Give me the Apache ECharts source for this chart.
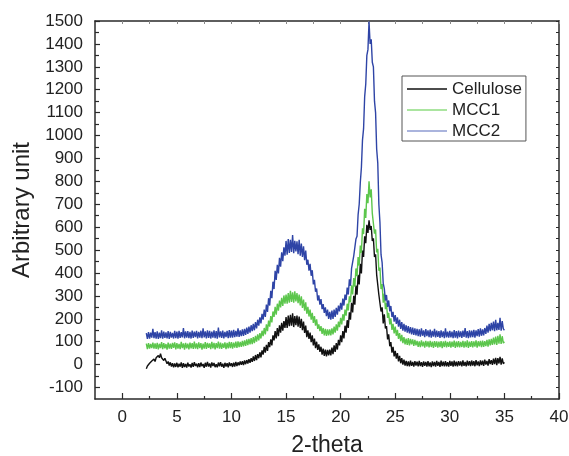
<!DOCTYPE html>
<html><head><meta charset="utf-8">
<script src="https://cdn.jsdelivr.net/npm/echarts@6/dist/echarts.min.js"></script>
<style>html,body{margin:0;padding:0;background:#fff}#c{width:569px;height:456px}</style>
</head><body><div id="c"></div>
<script>
const seriesNames = ['Cellulose', 'MCC1', 'MCC2'];
const xTickLabels = [0, 5, 10, 15, 20, 25, 30, 35, 40];
const xMinorTicks = [2.5, 7.5, 12.5, 17.5, 22.5, 27.5, 32.5, 37.5];
const yTickLabels = [-100, 0, 100, 200, 300, 400, 500, 600, 700, 800, 900, 1000, 1100, 1200, 1300, 1400, 1500];
const yMinorTicks = [-50, 50, 150, 250, 350, 450, 550, 650, 750, 850, 950, 1050, 1150, 1250, 1350, 1450];
const thetaStart = 2.2;
const thetaStep = 0.1;

// Cellulose, 2-theta 2.2 .. 35.0 step 0.1
const cellulose = [
  -18,-6,-12,6,-2,16,8,24,
  14,30,22,40,30,48,30,38,18,28,
  22,4,14,-4,10,-8,6,-12,5,-10,
  8,-12,4,-9,10,-14,6,-10,3,-13,
  9,-8,2,-13,7,-10,11,-6,4,-12,
  6,-11,9,-7,3,-14,8,-9,12,-8,
  5,-13,10,-6,7,-11,2,-12,9,-7,
  11,-9,4,-14,8,-8,6,-12,10,-6,
  6,-10,9,-8,12,-6,10,-3,14,-1,
  15,-2,18,2,20,5,24,8,28,12,
  36,16,42,20,46,28,54,32,62,44,
  78,52,86,60,98,76,110,84,128,106,
  146,114,160,124,172,140,182,148,190,160,
  208,160,214,168,218,170,224,164,212,172,
  214,166,210,160,200,150,188,138,170,120,
  150,112,140,98,128,84,114,72,100,64,
  88,56,78,44,70,38,66,36,64,40,
  66,40,74,46,84,56,94,66,108,84,
  128,98,146,114,170,140,194,160,228,196,
  270,228,300,262,345,305,392,350,440,398,
  498,470,560,530,610,575,630,588,605,540,
  552,470,482,392,400,305,312,232,250,180,
  220,158,168,110,132,80,98,52,78,36,
  60,26,50,14,38,6,28,0,22,-4,
  16,-6,14,-8,17,-5,12,-9,15,-4,
  13,-8,16,-6,11,-10,14,-5,12,-9,
  15,-7,10,-11,14,-6,12,-9,16,-5,
  12,-10,17,-6,13,-8,15,-7,11,-9,
  16,-5,14,-9,18,-6,13,-8,15,-4,
  14,-8,19,-5,12,-7,17,-4,15,-6,
  18,-4,15,-7,20,-3,14,-6,19,-2,
  17,-5,22,0,16,-4,24,2,20,-1,
  26,2,30,-2,28,5,34,0,27,4,
  10
];

// MCC1
const mcc1 = [
  92,68,94,70,90,72,96,70,
  93,69,95,67,91,72,98,68,94,71,
  90,66,96,70,92,69,95,73,97,67,
  94,70,91,68,99,72,93,66,95,71,
  92,67,96,71,94,69,100,70,93,68,
  97,72,94,66,92,70,98,69,95,73,
  93,68,99,71,95,67,94,72,101,70,
  96,69,93,73,97,68,95,71,99,72,
  98,70,96,74,100,73,102,76,99,78,
  104,80,106,82,110,85,112,88,116,90,
  120,94,126,100,132,106,138,114,148,124,
  160,132,176,146,192,166,212,184,232,208,
  252,218,266,236,280,250,292,256,302,266,
  306,266,312,270,322,274,316,270,320,276,
  312,268,306,258,298,248,284,236,272,222,
  252,210,240,196,226,182,212,170,198,156,
  176,146,168,134,160,128,156,126,154,128,
  154,128,158,132,166,140,176,148,188,164,
  204,176,220,192,240,214,266,236,298,272,
  346,306,378,340,420,386,470,432,520,488,
  595,570,680,640,745,705,800,730,765,660,
  668,572,590,490,506,410,424,330,352,270,
  310,242,268,204,226,176,202,152,178,136,
  166,126,152,112,138,102,130,94,120,88,
  114,86,116,84,112,88,110,82,108,84,
  104,78,102,76,106,80,100,74,104,79,
  101,75,104,77,100,73,103,78,102,74,
  100,76,103,72,101,77,104,75,99,78,
  102,74,100,78,105,73,101,76,103,75,
  99,77,104,74,102,76,106,73,100,78,
  103,75,101,79,106,74,102,80,104,76,
  105,78,103,81,108,79,110,84,112,86,
  118,88,122,86,126,92,132,90,124,94,
  100
];

// MCC2
const mcc2 = [
  138,112,142,114,140,118,156,116,
  142,114,145,112,140,116,150,113,144,117,
  141,115,146,112,143,118,139,114,148,116,
  144,113,147,117,142,119,160,115,145,118,
  146,116,143,114,149,117,144,120,147,115,
  143,118,148,116,158,119,145,115,150,117,
  147,114,144,118,150,116,146,113,162,119,
  145,117,149,115,143,120,147,116,151,118,
  148,118,152,120,147,122,158,121,150,124,
  154,126,156,130,162,134,166,140,172,146,
  178,150,186,158,196,170,206,180,222,196,
  240,208,262,230,290,258,322,290,362,330,
  410,370,436,398,466,428,490,452,512,476,
  540,480,548,488,545,492,566,486,540,494,
  538,482,545,476,528,470,516,456,498,436,
  458,410,440,388,412,350,370,318,332,280,
  302,262,286,242,264,226,250,212,240,200,
  230,196,236,200,240,208,248,218,258,232,
  270,240,288,258,306,282,336,306,372,344,
  420,412,475,470,548,560,655,700,795,860,
  980,1030,1170,1225,1350,1375,1498,1400,1420,1320,
  1300,1150,1100,940,880,700,620,480,445,355,
  332,280,304,252,280,232,256,208,230,188,
  216,178,206,166,196,156,186,148,178,144,
  172,140,168,136,164,132,162,130,158,128,
  156,124,154,122,158,126,150,120,155,124,
  150,120,153,118,147,122,156,119,148,121,
  146,117,150,120,145,116,158,119,144,118,
  147,119,144,116,151,118,146,115,149,120,
  145,117,148,121,160,118,146,116,150,119,
  149,120,152,118,150,124,155,122,158,126,
  154,128,160,134,170,140,178,146,182,150,
  188,146,196,150,182,152,204,148,190,156,
  150
];

const seriesValues = [cellulose, mcc1, mcc2];
const seriesColors = ['#111111', '#5cc64c', '#2e44a6'];
const legendColors = ['#111111', '#8fdc80', '#8e9bd2'];

function pairs(vals) {
  return vals.map((v, i) => [Math.round((thetaStart + thetaStep * i) * 10) / 10, v]);
}

const FONT = 'Liberation Sans, Arial, sans-serif';
const AX = '#2a2a2a';
const X_MIN = -2.5, X_MAX = 40, Y_MIN = -150, Y_MAX = 1500;

const chart = echarts.init(document.getElementById('c'), null, { renderer: 'canvas' });
const xTopTicks = [];
for (let k = 0; k < xTickLabels.length; k++) { xTopTicks.push(xTickLabels[k]); if (k < xMinorTicks.length) xTopTicks.push(xMinorTicks[k]); }
const yRightTicks = [];
for (let k = 0; k < yTickLabels.length; k++) { yRightTicks.push(yTickLabels[k]); if (k < yMinorTicks.length) yRightTicks.push(yMinorTicks[k]); }

chart.setOption({
  animation: false,
  backgroundColor: '#ffffff',
  grid: { left: 95, right: 10, top: 21, bottom: 57, containLabel: false, outerBoundsMode: 'none' },
  legend: {
    orient: 'vertical', left: 402, top: 76,
    data: seriesNames.map((n, i) => ({ name: n, itemStyle: { color: legendColors[i] } })),
    icon: 'rect', itemWidth: 40, itemHeight: 1.5, itemGap: 3,
    textStyle: { fontFamily: FONT, fontSize: 17, color: '#222', lineHeight: 18 },
    borderColor: '#555', borderWidth: 1, borderRadius: 0,
    padding: [4, 4, 1, 5],
    selectedMode: false
  },
  xAxis: [
    {
      type: 'value', position: 'bottom', min: X_MIN, max: X_MAX,
      name: '2-theta', nameLocation: 'middle', nameGap: 35,
      nameTextStyle: { fontFamily: FONT, fontSize: 23, color: '#222' },
      axisLine: { show: true, onZero: false, lineStyle: { color: AX, width: 1.5 } },
      axisTick: { show: true, inside: true, length: 6, customValues: xTickLabels, lineStyle: { color: AX, width: 1.2 } },
      axisLabel: { show: true, customValues: xTickLabels, margin: 10, fontFamily: FONT, fontSize: 17, color: '#222' },
      splitLine: { show: false }
    },
    {
      type: 'value', position: 'bottom', min: X_MIN, max: X_MAX, offset: 0,
      axisLine: { show: false, onZero: false },
      axisTick: { show: true, inside: true, length: 3, customValues: xMinorTicks, lineStyle: { color: AX, width: 1.2 } },
      axisLabel: { show: false }, splitLine: { show: false }
    },
    {
      type: 'value', position: 'top', min: X_MIN, max: X_MAX, offset: 0,
      axisLine: { show: true, onZero: false, lineStyle: { color: AX, width: 1.5 } },
      axisTick: { show: true, inside: true, length: 3, customValues: xTopTicks, lineStyle: { color: '#888', width: 1 } },
      axisLabel: { show: false }, splitLine: { show: false }
    }
  ],
  yAxis: [
    {
      type: 'value', position: 'left', min: Y_MIN, max: Y_MAX,
      name: 'Arbitrary unit', nameLocation: 'middle', nameGap: 60, nameRotate: 90,
      nameTextStyle: { fontFamily: FONT, fontSize: 24, color: '#222' },
      axisLine: { show: true, onZero: false, lineStyle: { color: AX, width: 1.5 } },
      axisTick: { show: true, inside: true, length: 5, customValues: yTickLabels, lineStyle: { color: AX, width: 1.2 } },
      axisLabel: { show: true, customValues: yTickLabels, margin: 12, fontFamily: FONT, fontSize: 17, color: '#222', formatter: v => String(v) },
      splitLine: { show: false }
    },
    {
      type: 'value', position: 'left', min: Y_MIN, max: Y_MAX, offset: 0,
      axisLine: { show: false, onZero: false },
      axisTick: { show: true, inside: true, length: 4, customValues: yMinorTicks, lineStyle: { color: AX, width: 1.2 } },
      axisLabel: { show: false }, splitLine: { show: false }
    },
    {
      type: 'value', position: 'right', min: Y_MIN, max: Y_MAX, offset: 0,
      axisLine: { show: true, onZero: false, lineStyle: { color: AX, width: 1.5 } },
      axisTick: { show: true, inside: true, length: 3, customValues: yRightTicks, lineStyle: { color: AX, width: 1 } },
      axisLabel: { show: false }, splitLine: { show: false }
    }
  ],
  series: seriesNames.map((n, i) => ({
    name: n, type: 'line', xAxisIndex: 0, yAxisIndex: 0,
    data: pairs(seriesValues[i]),
    showSymbol: false, symbol: 'none',
    lineStyle: { color: seriesColors[i], width: 1.4 },
    itemStyle: { color: seriesColors[i] },
    emphasis: { disabled: true }
  }))
});
</script></body></html>
